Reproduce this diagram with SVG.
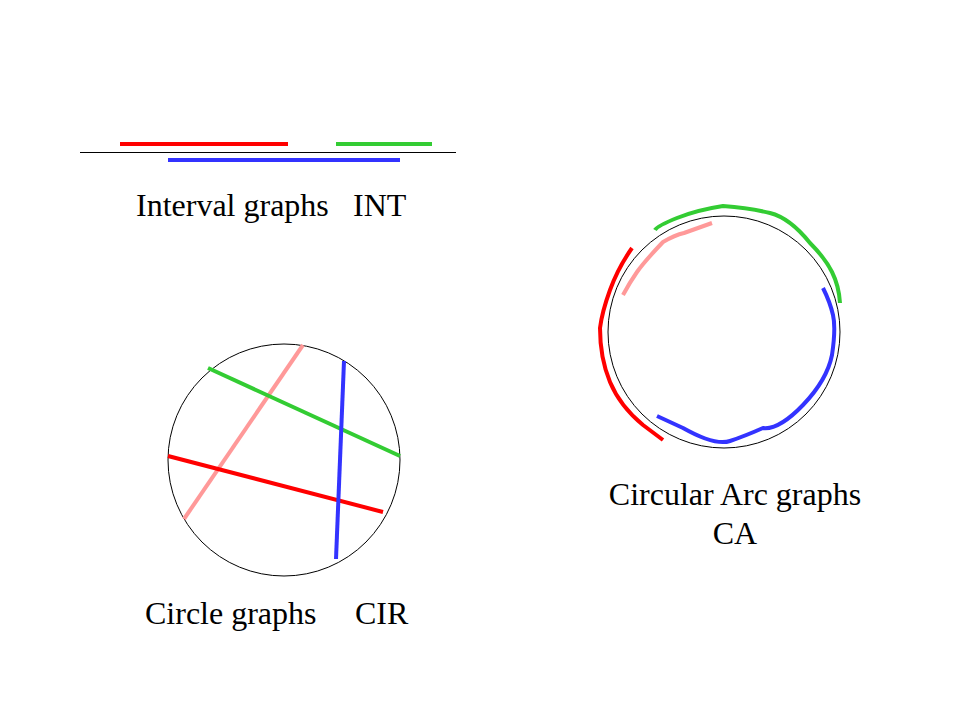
<svg xmlns="http://www.w3.org/2000/svg" width="960" height="720" viewBox="0 0 960 720">
<style>
.t{font-family:"Liberation Serif","Times New Roman",serif;font-size:32px;fill:#000}
.c{fill:none;stroke:#000;stroke-width:1}
.s{fill:none;stroke-width:4;stroke-linecap:butt;stroke-linejoin:round}
.red{stroke:#ff0000}.grn{stroke:#33cc33}.blu{stroke:#3333ff}.pnk{stroke:#ff9999}
</style>
<rect width="960" height="720" fill="#fff"/>
<g id="interval">
<line class="c" x1="80" y1="152.5" x2="456" y2="152.5"/>
<line class="s red" x1="120" y1="144" x2="288" y2="144"/>
<line class="s grn" x1="336" y1="144" x2="432" y2="144"/>
<line class="s blu" x1="168" y1="160" x2="400" y2="160"/>
<text class="t" x="136" y="216">Interval graphs</text>
<text class="t" x="353" y="216">INT</text>
</g>
<g id="circle">
<circle class="c" cx="284" cy="460" r="116"/>
<line class="s pnk" x1="303" y1="345" x2="184" y2="519"/>
<line class="s grn" x1="208" y1="368" x2="400" y2="456"/>
<line class="s red" x1="168" y1="456" x2="383" y2="512"/>
<line class="s blu" x1="344" y1="361" x2="336" y2="559"/>
<text class="t" x="145" y="624">Circle graphs</text>
<text class="t" x="355" y="624">CIR</text>
</g>
<g id="circulararc">
<circle class="c" cx="724" cy="332" r="116"/>
<path class="s grn" d="M655,230 Q657,226 677,218 T723,206 Q750,208 770,213 T810,243 Q825,258 832,272 T840,303"/>
<path class="s pnk" d="M623,295 Q630,282 637,272 T663,242 Q675,235 684,233 L712,223"/>
<path class="s red" d="M632,248 Q618,268 610,290 T600,328 Q600,358 610,382 T643,425 L663,440"/>
<path class="s blu" d="M823,288 Q830,302 833,315 T832,355 Q827,380 803,405 T763,428 Q745,436 730,441 T683,428 L657,416"/>
<text class="t" x="735" y="505" text-anchor="middle">Circular Arc graphs</text>
<text class="t" x="735" y="544" text-anchor="middle">CA</text>
</g>
</svg>
